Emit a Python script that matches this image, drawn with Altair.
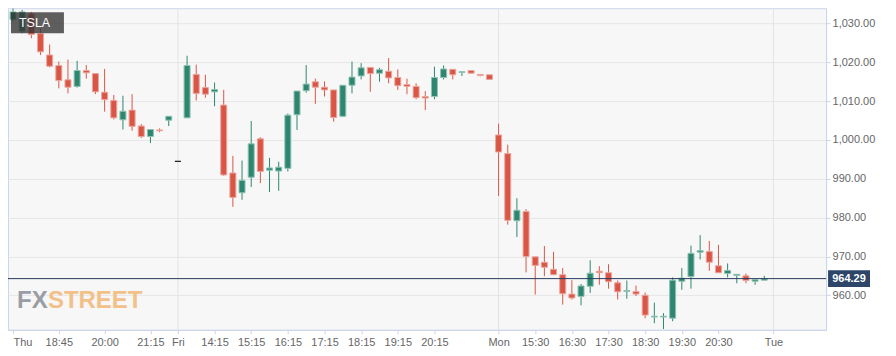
import altair as alt
import pandas as pd

# ---- data (15-minute TSLA candles) ----
opens = [1031.0, 1028.0, 1032.5, 1027.4, 1021.9, 1019.2, 1015.5, 1013.8, 1017.9, 1017.1,
         1012.3, 1010.2, 1005.2, 1007.7, 1003.6, 1000.9, 1002.6, 1005.1, 994.5, 1005.7,
         1016.9, 1013.5, 1012.4, 1009.0, 991.5, 986.4, 990.4, 1000.3, 992.2, 992.0,
         992.7, 1006.5, 1012.7, 1015.0, 1013.6, 1012.9, 1006.1, 1014.1, 1016.5, 1018.7,
         1017.2, 1017.7, 1016.1, 1014.3, 1013.8, 1011.2, 1011.2, 1016.1, 1018.2, 1017.4,
         1017.9, 1016.9, 1016.8, 1001.3, 996.5, 979.2, 981.6, 969.9, 968.5, 966.7,
         965.3, 960.3, 959.7, 962.3, 966.2, 965.8, 963.2, 961.0, 961.0, 960.0,
         954.4, 954.4, 954.1, 963.6, 964.8, 971.1, 971.3, 967.6, 965.6, 965.1,
         965.0, 963.6, 963.9]
highs = [1033.9, 1033.5, 1033.0, 1028.8, 1024.6, 1020.2, 1020.7, 1020.4, 1019.3, 1017.1,
         1018.3, 1011.6, 1011.4, 1011.8, 1004.1, 1002.7, 1003.0, 1006.1, 994.5, 1021.7,
         1019.4, 1016.8, 1014.8, 1012.9, 995.9, 994.7, 1004.9, 1000.7, 995.4, 994.4,
         1006.8, 1012.6, 1019.3, 1015.8, 1015.1, 1012.9, 1014.1, 1020.2, 1019.8, 1018.7,
         1018.6, 1021.1, 1018.2, 1015.8, 1014.6, 1012.6, 1018.9, 1019.2, 1018.3, 1017.6,
         1017.9, 1016.9, 1016.8, 1004.2, 998.8, 985.0, 982.2, 969.9, 972.7, 971.2,
         967.0, 963.9, 962.9, 969.0, 967.5, 968.0, 963.8, 963.8, 962.5, 960.7,
         958.1, 955.4, 964.6, 967.0, 972.8, 975.5, 974.0, 973.0, 968.2, 965.4,
         965.6, 964.0, 965.0]
lows = [1030.5, 1027.5, 1026.2, 1021.9, 1018.7, 1013.3, 1012.0, 1013.5, 1015.8, 1011.8,
        1007.3, 1005.3, 1002.7, 1002.4, 1000.5, 999.2, 1002.0, 1003.6, 994.5, 1005.7,
        1010.2, 1010.9, 1008.7, 990.8, 982.8, 984.6, 987.9, 988.9, 986.6, 986.9,
        991.9, 1002.6, 1012.2, 1009.3, 1011.2, 1004.7, 1005.9, 1012.0, 1015.6, 1012.4,
        1015.0, 1014.6, 1012.9, 1011.8, 1010.5, 1007.7, 1010.5, 1015.6, 1015.6, 1016.5,
        1017.2, 1016.4, 1015.6, 985.6, 978.2, 975.0, 965.9, 960.2, 964.9, 965.2,
        957.6, 958.9, 957.4, 960.6, 962.7, 961.7, 958.9, 959.1, 959.8, 954.1,
        952.8, 951.3, 953.3, 961.4, 961.7, 969.2, 966.3, 965.8, 964.6, 963.1,
        963.1, 962.7, 963.9]
closes = [1033.0, 1033.0, 1027.2, 1022.7, 1019.0, 1015.3, 1013.6, 1017.9, 1017.3, 1012.4,
          1010.4, 1005.7, 1007.4, 1003.5, 1000.9, 1002.7, 1002.4, 1006.1, 994.5, 1019.2,
          1012.0, 1011.8, 1013.0, 991.0, 985.2, 989.6, 999.0, 991.9, 992.8, 993.0,
          1006.4, 1012.6, 1014.4, 1013.6, 1012.9, 1005.8, 1014.1, 1016.2, 1018.6, 1017.1,
          1018.1, 1016.0, 1014.0, 1013.8, 1010.9, 1010.8, 1016.1, 1018.3, 1016.8, 1017.6,
          1017.2, 1016.6, 1015.6, 996.9, 979.3, 981.9, 970.0, 967.7, 967.2, 965.3,
          960.4, 959.3, 962.4, 965.7, 965.8, 963.5, 960.9, 961.2, 960.3, 954.9,
          954.6, 954.6, 963.9, 964.4, 970.8, 971.5, 968.5, 965.8, 966.4, 965.4,
          963.8, 964.0, 964.29]

tick_idx = [0, 5, 10, 15, 18, 22, 26, 30, 34, 38, 42, 46, 53, 57, 61, 65, 69, 73, 77, 83]
tick_text = ["Thu", "18:45", "20:00", "21:15", "Fri", "14:15", "15:15", "16:15", "17:15",
             "18:15", "19:15", "20:15", "Mon", "15:30", "16:30", "17:30", "18:30", "19:30",
             "20:30", "Tue"]
day_idx = [18, 53, 83]
y_ticks = [960, 970, 980, 990, 1000, 1010, 1020, 1030]
last_price = 964.29
symbol = "TSLA"
brand_a = "FX"
brand_b = "STREET"

# ---- build table ----
def direction(o, c):
    if c > o:
        return "up"
    if c < o:
        return "down"
    return "flat"

df = pd.DataFrame({
    "i": list(range(len(opens))),
    "open": opens, "high": highs, "low": lows, "close": closes,
})
df["dir"] = [direction(o, c) for o, c in zip(opens, closes)]

W, H = 819, 322
xs = alt.Scale(domain=[0, 88.2], nice=False, zero=False)
ys = alt.Scale(domain=[951.1, 1033.95], nice=False, zero=False)

lookup = "{" + ",".join(f"'{k}':'{v}'" for k, v in zip(tick_idx, tick_text)) + "}"
x_axis = alt.Axis(values=tick_idx, labelExpr=lookup + "[datum.value]", grid=False,
                  domainColor="#ccd6eb", tickColor="#ccd6eb", tickSize=4,
                  labelFlush=False, labelOverlap=False, labelPadding=3,
                  labelAlign=alt.expr(f"datum.value == {tick_idx[0]} ? 'left' : 'center'"),
                  labelColor="#666666", labelFontSize=11, labelFont="Liberation Sans",
                  title=None)
y_axis = alt.Axis(orient="right", values=y_ticks, format=",.2f", grid=True,
                  gridColor="#e6e6e6", domainColor="#ccd6eb", tickColor="#ccd6eb",
                  tickSize=4, labelColor="#666666", labelFontSize=11,
                  labelFont="Liberation Sans", labelPadding=2, title=None)

dirs = ["up", "down", "flat"]
main_colors = ["#2e8670", "#d95646", "#222222"]
edge_colors = ["#8fc3b3", "#eba79e", "#222222"]

day_lines = alt.Chart(pd.DataFrame({"d": day_idx})).mark_rule(
    color="#e3e3e3", strokeWidth=1
).encode(x=alt.X("d:Q", scale=xs, axis=x_axis))

base = alt.Chart(df)
wicks = base.mark_rule(strokeWidth=1, clip=True).encode(
    x=alt.X("i:Q", scale=xs),
    y=alt.Y("low:Q", scale=ys, axis=y_axis),
    y2="high:Q",
    color=alt.Color("dir:N", scale=alt.Scale(domain=dirs, range=main_colors), legend=None),
)
bodies = base.mark_bar(size=6, strokeWidth=1, clip=True).encode(
    x=alt.X("i:Q", scale=xs),
    y=alt.Y("open:Q", scale=ys),
    y2="close:Q",
    fill=alt.Fill("dir:N", scale=alt.Scale(domain=dirs, range=main_colors), legend=None),
    stroke=alt.Stroke("dir:N", scale=alt.Scale(domain=dirs, range=edge_colors), legend=None),
)

pdf = pd.DataFrame({"p": [last_price]})
price_line = alt.Chart(pdf).mark_rule(color="#263b5b", strokeWidth=1).encode(
    y=alt.Y("p:Q", scale=ys)
)
price_box = alt.Chart(pdf).mark_rect(color="#2c4569", yOffset=-8.5, y2Offset=8.5).encode(
    x=alt.value(W + 2), x2=alt.value(W + 44),
    y=alt.Y("p:Q", scale=ys), y2="p:Q",
)
price_text = alt.Chart(pdf).mark_text(
    color="white", fontWeight="bold", fontSize=11, font="Liberation Sans",
    align="center", baseline="middle"
).encode(x=alt.value(W + 23), y=alt.Y("p:Q", scale=ys), text=alt.Text("p:Q", format=".2f"))

sdf = pd.DataFrame({"s": [symbol]})
sym_box = alt.Chart(sdf).mark_rect(color="#333333", opacity=0.78).encode(
    x=alt.value(3), x2=alt.value(56), y=alt.value(4), y2=alt.value(25)
)
sym_text = alt.Chart(sdf).mark_text(
    color="white", fontSize=12.5, font="Liberation Sans", align="left", baseline="middle"
).encode(x=alt.value(11), y=alt.value(15), text="s:N")

bdf = pd.DataFrame({"a": [brand_a], "b": [brand_b]})
brand_font = "Liberation Sans"
brand_size = 24
wm_a = alt.Chart(bdf).mark_text(
    color="#9a9da5", fontSize=brand_size, font=brand_font, fontWeight="bold",
    align="left", baseline="alphabetic"
).encode(x=alt.value(9), y=alt.value(300), text="a:N")
wm_b = alt.Chart(bdf).mark_text(
    color="#f1c189", fontSize=brand_size, font=brand_font, fontWeight="bold",
    align="left", baseline="alphabetic"
).encode(x=alt.value(9 + 1.29 * brand_size), y=alt.value(300), text="b:N")

chart = alt.layer(
    day_lines, wicks, bodies, price_line, wm_a, wm_b, sym_box, sym_text,
    price_box, price_text
).properties(
    width=W, height=H,
    autosize=alt.AutoSizeParams(type="none"),
    padding={"left": 0, "top": 0, "right": 62, "bottom": 20},
    background="white",
).configure_view(fill="#f7f7f7", stroke="#ccd6eb", strokeWidth=1)

chart.save("out.html", embed_options={"renderer": "svg", "actions": False})
